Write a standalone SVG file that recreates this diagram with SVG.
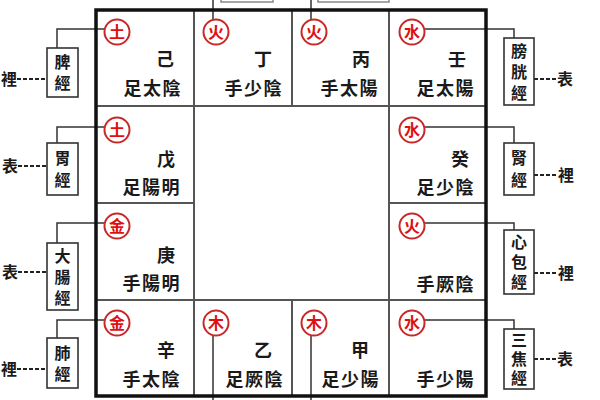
<svg xmlns="http://www.w3.org/2000/svg" width="600" height="400" viewBox="0 0 600 400">
<style>
text{font-family:"Noto Sans CJK TC","Noto Sans CJK SC",sans-serif;font-weight:bold;fill:#1a1a1a}
.el{fill:#e01010;font-size:16px;text-anchor:middle}
.ring{fill:#fff;stroke:#c82828;stroke-width:2}
.stem{font-size:18px;text-anchor:middle}
.mer{font-size:18px;text-anchor:end;letter-spacing:1.5px}
.box{fill:#fff;stroke:#333;stroke-width:1.6}
.bt{font-size:16px;text-anchor:start;writing-mode:vertical-rl}
.lab{font-size:16px;text-anchor:middle}
.inner{stroke:#555;stroke-width:2;fill:none}
.frame{stroke:#111;stroke-width:3.5;fill:none}
.con{stroke:#333;stroke-width:1.5;fill:none}
.dash{stroke:#222;stroke-width:2;stroke-dasharray:4 2;fill:none}
.top{fill:#fff;stroke:#888;stroke-width:1.5}
</style>
<rect width="600" height="400" fill="#fff"/>
<g id="topboxes">
<rect class="top" x="221" y="-40" width="52" height="42"/>
<rect class="top" x="318" y="-40" width="71" height="42"/>
</g>
<g id="connectors">
<path class="con" d="M104.5 29H57V48"/>
<path class="con" d="M104.5 127H57V143"/>
<path class="con" d="M104.5 223H57V243"/>
<path class="con" d="M104.5 320H57V338"/>
<path class="con" d="M424.5 29H514V38"/>
<path class="con" d="M424.5 127H514V143"/>
<path class="con" d="M424.5 223H514V230"/>
<path class="con" d="M424.5 320H514V329"/>
<path class="con" d="M213 0V20"/>
<path class="con" d="M311 0V20"/>
<path class="con" d="M213 335V400"/>
<path class="con" d="M311 335V400"/>
<path class="dash" d="M17 79H47"/>
<path class="dash" d="M18 166H47"/>
<path class="dash" d="M18 272H47"/>
<path class="dash" d="M17 369H47"/>
<path class="dash" d="M534 79H556"/>
<path class="dash" d="M534 175H556"/>
<path class="dash" d="M534 273H556"/>
<path class="dash" d="M534 359H556"/>
</g>
<g id="grid">
<path class="inner" d="M194 10V396M389 10V396M292 10V106M292 300V396M96 106H486M96 300H486M96 203H194M389 203H486"/>
<rect class="frame" x="96" y="10" width="390" height="386"/>
</g>
<g id="cell-ji">
<circle class="ring" cx="117" cy="32" r="12.5"/><text class="el" x="117" y="38">土</text>
<text class="stem" x="165" y="66">己</text><text class="mer" x="182" y="95">足太陰</text>
</g>
<g id="cell-ding">
<circle class="ring" cx="216" cy="32" r="12.5"/><text class="el" x="216" y="38">火</text>
<text class="stem" x="263" y="66">丁</text><text class="mer" x="283" y="95">手少陰</text>
</g>
<g id="cell-bing">
<circle class="ring" cx="314" cy="32" r="12.5"/><text class="el" x="314" y="38">火</text>
<text class="stem" x="361" y="66">丙</text><text class="mer" x="379" y="95">手太陽</text>
</g>
<g id="cell-ren">
<circle class="ring" cx="412" cy="32" r="12.5"/><text class="el" x="412" y="38">水</text>
<text class="stem" x="457" y="66">壬</text><text class="mer" x="475" y="95">足太陽</text>
</g>
<g id="cell-wu">
<circle class="ring" cx="117" cy="130" r="12.5"/><text class="el" x="117" y="136">土</text>
<text class="stem" x="166" y="166">戊</text><text class="mer" x="181" y="194">足陽明</text>
</g>
<g id="cell-gui">
<circle class="ring" cx="412" cy="130" r="12.5"/><text class="el" x="412" y="136">水</text>
<text class="stem" x="460" y="166">癸</text><text class="mer" x="475" y="194">足少陰</text>
</g>
<g id="cell-geng">
<circle class="ring" cx="117" cy="226" r="12.5"/><text class="el" x="117" y="232">金</text>
<text class="stem" x="166" y="262">庚</text><text class="mer" x="181" y="290">手陽明</text>
</g>
<g id="cell-jueyin">
<circle class="ring" cx="412" cy="226" r="12.5"/><text class="el" x="412" y="232">火</text>
<text class="mer" x="475" y="291">手厥陰</text>
</g>
<g id="cell-xin">
<circle class="ring" cx="117" cy="323" r="12.5"/><text class="el" x="117" y="329">金</text>
<text class="stem" x="166" y="357">辛</text><text class="mer" x="181" y="386">手太陰</text>
</g>
<g id="cell-yi">
<circle class="ring" cx="216" cy="323" r="12.5"/><text class="el" x="216" y="329">木</text>
<text class="stem" x="263" y="357">乙</text><text class="mer" x="284" y="386">足厥陰</text>
</g>
<g id="cell-jia">
<circle class="ring" cx="314" cy="323" r="12.5"/><text class="el" x="314" y="329">木</text>
<text class="stem" x="360" y="357">甲</text><text class="mer" x="380" y="386">足少陽</text>
</g>
<g id="cell-shaoyang">
<circle class="ring" cx="412" cy="323" r="12.5"/><text class="el" x="412" y="329">水</text>
<text class="mer" x="475" y="386">手少陽</text>
</g>
<g id="box-pi"><rect class="box" x="47" y="48" width="31" height="49"/><text class="bt" x="62.5" y="54" letter-spacing="5">脾經</text></g>
<g id="box-wei"><rect class="box" x="47" y="143" width="31" height="52"/><text class="bt" x="62.5" y="150" letter-spacing="6">胃經</text></g>
<g id="box-dachang"><rect class="box" x="47" y="243" width="31" height="67"/><text class="bt" x="62.5" y="247.5" letter-spacing="5">大腸經</text></g>
<g id="box-fei"><rect class="box" x="47" y="338" width="31" height="50"/><text class="bt" x="62.5" y="344.5" letter-spacing="5">肺經</text></g>
<g id="box-pangguang"><rect class="box" x="504" y="38" width="30" height="67"/><text class="bt" x="519" y="42.5" letter-spacing="5">膀胱經</text></g>
<g id="box-shen"><rect class="box" x="504" y="143" width="30" height="52"/><text class="bt" x="519" y="150" letter-spacing="6">腎經</text></g>
<g id="box-xinbao"><rect class="box" x="504" y="230" width="30" height="64"/><text class="bt" x="519" y="234" letter-spacing="4">心包經</text></g>
<g id="box-sanjiao"><rect class="box" x="504" y="329" width="30" height="60"/><text class="bt" x="519" y="332" letter-spacing="3">三焦經</text></g>
<g id="labels">
<text class="lab" x="9" y="85">裡</text>
<text class="lab" x="10" y="172">表</text>
<text class="lab" x="10" y="278">表</text>
<text class="lab" x="9" y="375">裡</text>
<text class="lab" x="565" y="85">表</text>
<text class="lab" x="566" y="181">裡</text>
<text class="lab" x="566" y="279">裡</text>
<text class="lab" x="565" y="365">表</text>
</g>
</svg>
